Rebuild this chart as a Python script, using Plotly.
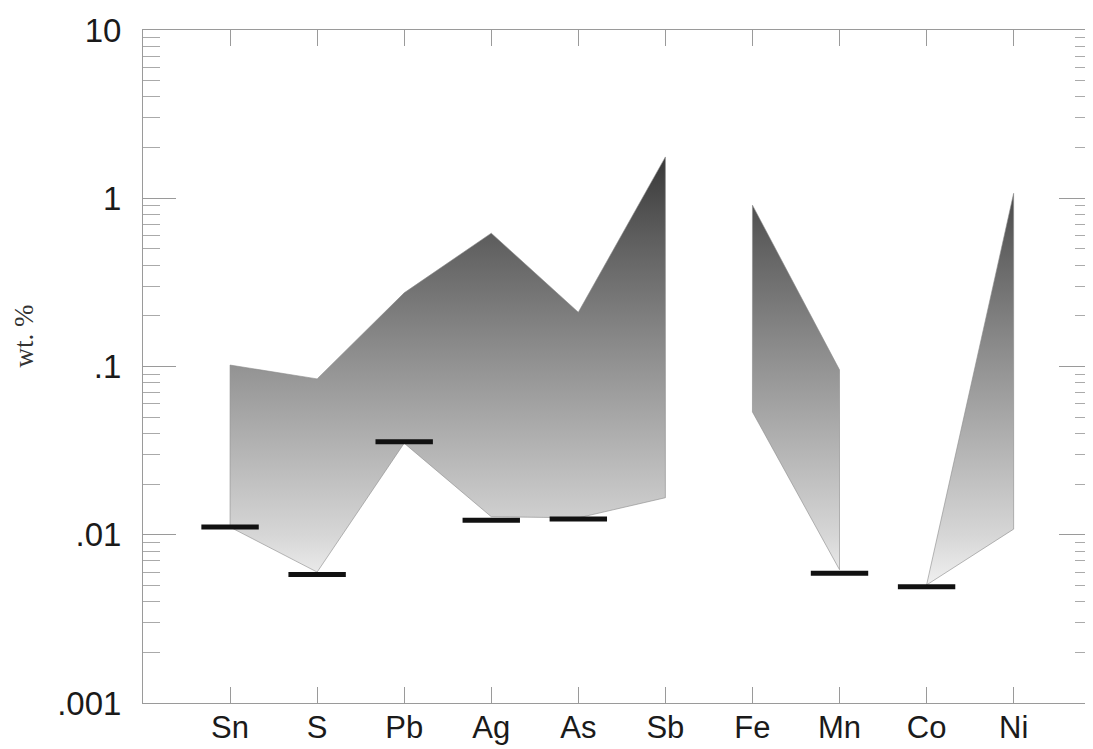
import plotly.graph_objects as go

elements = ["Sn", "S", "Pb", "Ag", "As", "Sb", "Fe", "Mn", "Co", "Ni"]
upper = [0.102, 0.0844, 0.274, 0.62, 0.21, 1.76, 0.91, 0.0955, 0.00503, 1.07]
lower = [0.0111, 0.0060, 0.035, 0.0128, 0.0126, 0.0166, 0.0537, 0.0062, 0.00503, 0.0108]
groups = [["Sn", "S", "Pb", "Ag", "As", "Sb"], ["Fe", "Mn"], ["Co", "Ni"]]
limit_elements = ["Sn", "S", "Pb", "Ag", "As", "Mn", "Co"]
limit_values = [0.0111, 0.0058, 0.0357, 0.0122, 0.0124, 0.0059, 0.0049]
tick_vals = [0.001, 0.01, 0.1, 1, 10]
tick_text = [".001", ".01", ".1", "1", "10"]
minor_vals = [m * d for d in [0.001, 0.01, 0.1, 1] for m in range(2, 10)]

idx = {e: i for i, e in enumerate(elements)}

px, py = [], []
for g in groups:
    ii = [idx[e] for e in g]
    xs = ii + ii[::-1] + [ii[0]]
    ys = [upper[i] for i in ii] + [lower[i] for i in ii[::-1]] + [upper[ii[0]]]
    px += xs + [None]
    py += ys + [None]

fig = go.Figure()
fig.add_trace(go.Scatter(
    x=px, y=py, mode="lines", fill="toself",
    line=dict(color="#8a8a8a", width=0.6),
    fillgradient=dict(type="vertical",
                      colorscale=[[0, "#f0f0f0"], [0.117, "#d6d6d6"], [0.51, "#939393"],
                                  [0.822, "#5c5c5c"], [1, "#383838"]]),
    hoverinfo="skip", showlegend=False))

fig.add_trace(go.Scatter(
    x=[idx[e] for e in limit_elements], y=limit_values, mode="markers",
    marker=dict(symbol="line-ew", size=41, line=dict(color="#111111", width=5)),
    showlegend=False))

fig.add_annotation(text="wt. %", xref="paper", yref="paper", x=-0.125, y=0.545,
                   textangle=-90, showarrow=False, xanchor="center", yanchor="middle",
                   font=dict(family="Liberation Serif", size=27, color="#333333"))

fig.update_xaxes(range=[-1, 9.9], tickvals=list(range(len(elements))), ticktext=elements,
                 ticks="inside", ticklen=16, tickcolor="#9a9a9a", tickwidth=1,
                 showline=True, linecolor="#9a9a9a", linewidth=1, mirror="ticks",
                 showgrid=False, zeroline=False, automargin=False, ticklabelstandoff=-3,
                 tickfont=dict(family="Liberation Sans", size=31, color="#1a1a1a"))
fig.update_yaxes(type="log", range=[-3, 1], tickvals=tick_vals, ticktext=tick_text,
                 ticks="inside", ticklen=33, tickcolor="#9a9a9a", tickwidth=1,
                 minor=dict(tickmode="array", tickvals=minor_vals, ticks="inside", ticklen=17,
                            tickcolor="#aaaaaa", tickwidth=1, showgrid=False),
                 showline=True, linecolor="#9a9a9a", linewidth=1, mirror="ticks",
                 showgrid=False, zeroline=False, ticklabelstandoff=14, automargin=False,
                 tickfont=dict(family="Liberation Sans", size=33, color="#1a1a1a"))

fig.update_layout(width=1093, height=749, margin=dict(l=135, r=9, t=22, b=54),
                  plot_bgcolor="white", paper_bgcolor="white")
fig.write_html("out.html")
